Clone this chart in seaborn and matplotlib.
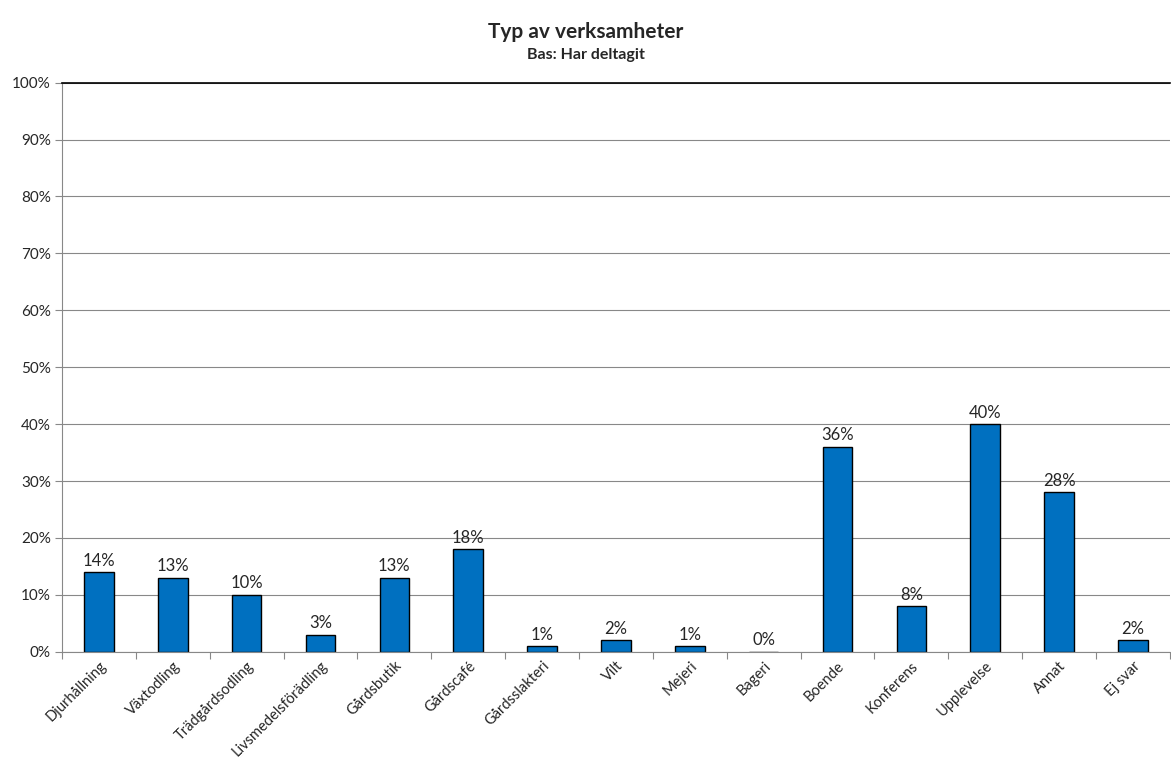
import pandas as pd
import matplotlib.pyplot as plt
import seaborn as sns
from matplotlib.ticker import PercentFormatter, MultipleLocator

categories = ['Djurhållning', 'Växtodling', 'Trädgårdsodling', 'Livsmedelsförädling',
              'Gårdsbutik', 'Gårdscafé', 'Gårdsslakteri', 'Vilt', 'Mejeri', 'Bageri',
              'Boende', 'Konferens', 'Upplevelse', 'Annat', 'Ej svar']
values = [14, 13, 10, 3, 13, 18, 1, 2, 1, 0, 36, 8, 40, 28, 2]

df = pd.DataFrame({'kategori': categories, 'andel': values})

sns.set_style('white')
plt.rcParams['font.family'] = ['Lato', 'DejaVu Sans']

fig = plt.figure(figsize=(11.71, 7.65), dpi=100)
ax = fig.add_axes([0.053, 0.148, 0.946, 0.744])

sns.barplot(data=df, x='kategori', y='andel', color='#0070C0', width=0.4,
            edgecolor='black', linewidth=1, saturation=1, ax=ax)

for i, v in enumerate(values):
    ax.text(i, v + 0.6, f'{v}%', ha='center', va='bottom', fontsize=12)

ax.set_ylim(0, 100)
ax.set_xlim(-0.5, len(categories) - 0.5)
ax.yaxis.set_major_locator(MultipleLocator(10))
ax.yaxis.set_major_formatter(PercentFormatter(decimals=0))
ax.grid(axis='y', color='#888888', linewidth=0.8)
ax.set_axisbelow(True)

# tick marks between categories, like Excel
ax.set_xticks([i - 0.5 for i in range(len(categories) + 1)], minor=True)
ax.tick_params(axis='x', which='minor', length=5, color='#888888', width=0.8, bottom=True)
ax.tick_params(axis='x', which='major', length=0, pad=5)
ax.tick_params(axis='y', length=5, color='#888888', width=0.8, left=True, labelsize=11, pad=3)
ax.set_xticks(range(len(categories)))
ax.set_xticklabels(categories, rotation=45, ha='right', rotation_mode='anchor', fontsize=10.5)

for side in ['left', 'bottom']:
    ax.spines[side].set_color('#888888')
    ax.spines[side].set_linewidth(0.8)
ax.spines['top'].set_color('black')
ax.spines['top'].set_linewidth(1.2)
ax.spines['right'].set_visible(False)

ax.set_xlabel('')
ax.set_ylabel('')

fig.text(0.5, 0.958, 'Typ av verksamheter', ha='center', va='center', fontsize=15, fontweight='bold')
fig.text(0.5, 0.928, 'Bas: Har deltagit', ha='center', va='center', fontsize=11.5, fontweight='bold')

plt.savefig('out.png', dpi=100)
plt.close()
